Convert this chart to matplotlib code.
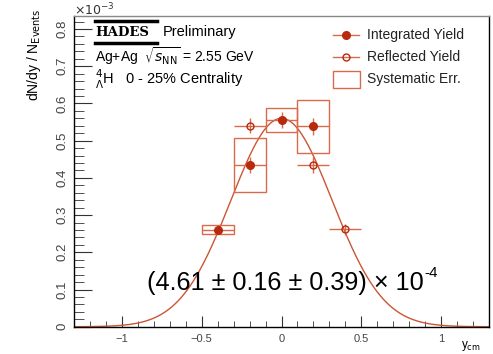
import numpy as np
import matplotlib
matplotlib.use("Agg")
import matplotlib.pyplot as plt
from matplotlib.patches import Rectangle
from matplotlib.lines import Line2D

plt.rcParams['font.family'] = ['Liberation Sans', 'DejaVu Sans']

# data (yields in units of 1e-3)
int_y = [-0.4, -0.2, 0.0, 0.2]
int_val = [0.260, 0.434, 0.556, 0.538]
int_stat = [0.012, 0.022, 0.022, 0.022]
int_sys = [0.012, 0.073, 0.032, 0.072]

refl_y = [-0.2, 0.2, 0.4]
refl_val = [0.540, 0.434, 0.262]
refl_stat = [0.020, 0.022, 0.015]

bin_half = 0.1

# gaussian fit parameters
fit_amp = 0.56
fit_mu = 0.0
fit_sigma = 0.317

c_pt = '#b8290e'
c_box = '#da6a4c'
c_fit = '#cc5535'

fig = plt.figure(figsize=(4.93, 3.54), dpi=100)
ax = fig.add_axes([0.150, 0.077, 0.842, 0.878])

# fit curve
xf = np.linspace(-1.3, 1.3, 400)
ax.plot(xf, fit_amp * np.exp(-0.5 * ((xf - fit_mu) / fit_sigma) ** 2), color=c_fit, lw=1.0, zorder=2)

# systematic boxes
for x, v, s in zip(int_y, int_val, int_sys):
    ax.add_patch(Rectangle((x - bin_half, v - s), 2 * bin_half, 2 * s,
                           fill=False, edgecolor=c_box, lw=1.0, zorder=3))

ax.errorbar(int_y, int_val, yerr=int_stat, xerr=bin_half, fmt='o', color=c_pt,
            ecolor=c_box, elinewidth=1.0, capsize=0, ms=5.5, zorder=4)
ax.errorbar(refl_y, refl_val, yerr=refl_stat, xerr=bin_half, fmt='o', color=c_pt,
            mfc='none', ecolor=c_box, elinewidth=1.0, capsize=0, ms=5, mew=1.0, zorder=4)

ax.set_xlim(-1.3, 1.3)
ax.set_ylim(0, 0.835)
ax.set_xticks([-1, -0.5, 0, 0.5, 1])
ax.set_xticklabels(['\u22121', '\u22120.5', '0', '0.5', '1'])
ax.set_xticks(np.arange(-1.2, 1.25, 0.1), minor=True)
ax.set_yticks(np.arange(0, 0.81, 0.1))
ax.set_yticklabels(['0', '0.1', '0.2', '0.3', '0.4', '0.5', '0.6', '0.7', '0.8'], rotation=90, va='center')
ax.set_yticks(np.arange(0, 0.83, 0.02), minor=True)
ax.tick_params(axis='both', which='both', direction='in', top=False, right=False, colors='#333333')
ax.tick_params(axis='x', which='major', length=8, labelsize=8, pad=5, labelcolor='#444444')
ax.tick_params(axis='x', which='minor', length=4)
ax.tick_params(axis='y', which='major', length=13, labelsize=9.5, pad=4, labelcolor='#444444')
ax.tick_params(axis='y', which='minor', length=7)
for sp in ax.spines.values():
    sp.set_linewidth(1.0)
ax.spines['top'].set_color('#888888')

fig.text(0.150, 0.972, r'$\times10^{-3}$', fontsize=9, ha='left', va='center', color='#333333')
fig.text(0.068, 0.975, r'dN/dy / N$_{\mathrm{Events}}$', fontsize=10, rotation=90, ha='center', va='top')
fig.text(0.955, 0.022, r'y$_{\mathrm{cm}}$', fontsize=8.5, ha='center', va='center')

# HADES label
fig.text(0.193, 0.908, 'HADES', fontsize=9.5, fontweight='heavy', family='DejaVu Serif', ha='left', va='center')
for yy in (0.940, 0.878):
    fig.add_artist(Line2D([0.193, 0.318], [yy, yy], color='black', lw=2.5))
fig.text(0.330, 0.910, 'Preliminary', fontsize=10.5, ha='left', va='center')
fig.text(0.193, 0.840, r'Ag+Ag  $\sqrt{s_{\mathrm{NN}}}$ = 2.55 GeV', fontsize=10, ha='left', va='center')
fig.text(0.193, 0.775, r'$^{4}_{\Lambda}$H   0 - 25% Centrality', fontsize=10.5, ha='left', va='center')

# legend
lx0, lx1 = 0.675, 0.728
fig.add_artist(Line2D([lx0, lx1], [0.902, 0.902], color=c_box, lw=1.0))
fig.add_artist(Line2D([(lx0 + lx1) / 2], [0.902], marker='o', color=c_pt, ms=5.5, lw=0))
fig.text(0.745, 0.902, 'Integrated Yield', fontsize=10, ha='left', va='center', color='#222222')
fig.add_artist(Line2D([lx0, lx1], [0.838, 0.838], color=c_box, lw=1.0))
fig.add_artist(Line2D([(lx0 + lx1) / 2], [0.838], marker='o', color=c_pt, mfc='none', ms=5, lw=0))
fig.text(0.745, 0.838, 'Reflected Yield', fontsize=10, ha='left', va='center', color='#222222')
fig.add_artist(Rectangle((lx0, 0.752), lx1 - lx0 + 0.003, 0.048, fill=False, edgecolor=c_box, lw=1.0,
                         transform=fig.transFigure))
fig.text(0.745, 0.776, 'Systematic Err.', fontsize=10, ha='left', va='center', color='#222222')

# integrated yield text
main_txt = fig.text(0.298, 0.200, '(4.61 \u00b1 0.16 \u00b1 0.39) \u00d7 10', fontsize=18.2,
                    ha='left', va='center')
fig.canvas.draw()
bb = main_txt.get_window_extent()
x_end = bb.x1 / fig.bbox.width
fig.text(x_end + 0.002, 0.230, '-4', fontsize=11, ha='left', va='center')

fig.savefig('out.png', dpi=100)
